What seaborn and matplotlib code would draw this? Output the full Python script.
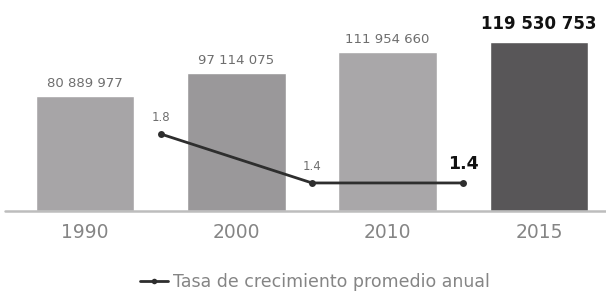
import matplotlib
matplotlib.use("Agg")
import matplotlib.pyplot as plt
import seaborn as sns
import pandas as pd
from matplotlib.lines import Line2D

years = ["1990", "2000", "2010", "2015"]
population = [80889977, 97114075, 111954660, 119530753]
pop_labels = ["80 889 977", "97 114 075", "111 954 660", "119 530 753"]
periods = ["1990-2000", "2000-2010", "2010-2015"]
rates = [1.8, 1.4, 1.4]
rate_labels = ["1.8", "1.4", "1.4"]
bar_colors = ["#a7a5a7", "#9a989a", "#a9a7a9", "#585658"]
legend_label = "Tasa de crecimiento promedio anual"

sns.set_theme(style="white")
plt.rcParams["font.family"] = ["DejaVu Sans"]

fig = plt.figure(figsize=(6.06, 2.91), dpi=100)
ax = fig.add_axes([0.0, 80 / 291, 1.0, 211 / 291])

df = pd.DataFrame({"year": years, "pop": population})
sns.barplot(data=df, x="year", y="pop", hue="year", palette=bar_colors,
            legend=False, width=0.65, ax=ax, saturation=1)

ax.set_xlim(-0.562, 3.443)
ax.set_ylim(0, 149e6)
ax.set_xlabel("")
ax.set_ylabel("")
ax.set_yticks([])
for s in ax.spines.values():
    s.set_visible(False)
ax.tick_params(axis="x", length=0, pad=9, labelsize=13.5, labelcolor="#858585")
ax.axhline(0, xmin=5 / 606, xmax=1, color="#bdbdbd", lw=1.8, zorder=5, clip_on=False)

for i, (v, lab) in enumerate(zip(population, pop_labels)):
    if i == len(population) - 1:
        ax.annotate(lab, (i, v), xytext=(0, 6), textcoords="offset points",
                    ha="center", va="bottom", fontsize=12, fontweight="bold",
                    color="#111111")
    else:
        ax.annotate(lab, (i, v), xytext=(0, 5), textcoords="offset points",
                    ha="center", va="bottom", fontsize=9.5, color="#6e6e6e")

ax2 = ax.twinx()
xpos = [i + 0.5 for i in range(len(rates))]
ldf = pd.DataFrame({"x": xpos, "rate": rates, "period": periods})
sns.lineplot(data=ldf, x="x", y="rate", ax=ax2, color="#2e2e2e", lw=2,
             marker="o", markersize=5, markeredgewidth=0)
ax2.set_ylim(1.171, 2.894)
ax2.set_xlim(-0.562, 3.443)
ax2.set_yticks([])
ax2.set_xlabel("")
ax2.set_ylabel("")
for s in ax2.spines.values():
    s.set_visible(False)

for i, (x, r, lab) in enumerate(zip(xpos, rates, rate_labels)):
    if i == len(rates) - 1:
        ax2.annotate(lab, (x, r), xytext=(0, 7), textcoords="offset points",
                     ha="center", va="bottom", fontsize=12.5, fontweight="bold",
                     color="#111111")
    else:
        ax2.annotate(lab, (x, r), xytext=(0, 7), textcoords="offset points",
                     ha="center", va="bottom", fontsize=8.5, color="#6e6e6e")

handle = Line2D([], [], color="#2e2e2e", lw=2, marker="o", markersize=4,
                markeredgewidth=0)
fig.legend([handle], [legend_label], loc="center",
           bbox_to_anchor=(315 / 606, 9 / 291), frameon=False,
           fontsize=12.5, labelcolor="#858585", handlelength=1.6,
           handletextpad=0.3, borderpad=0, borderaxespad=0)

fig.savefig("out.png", dpi=100)
